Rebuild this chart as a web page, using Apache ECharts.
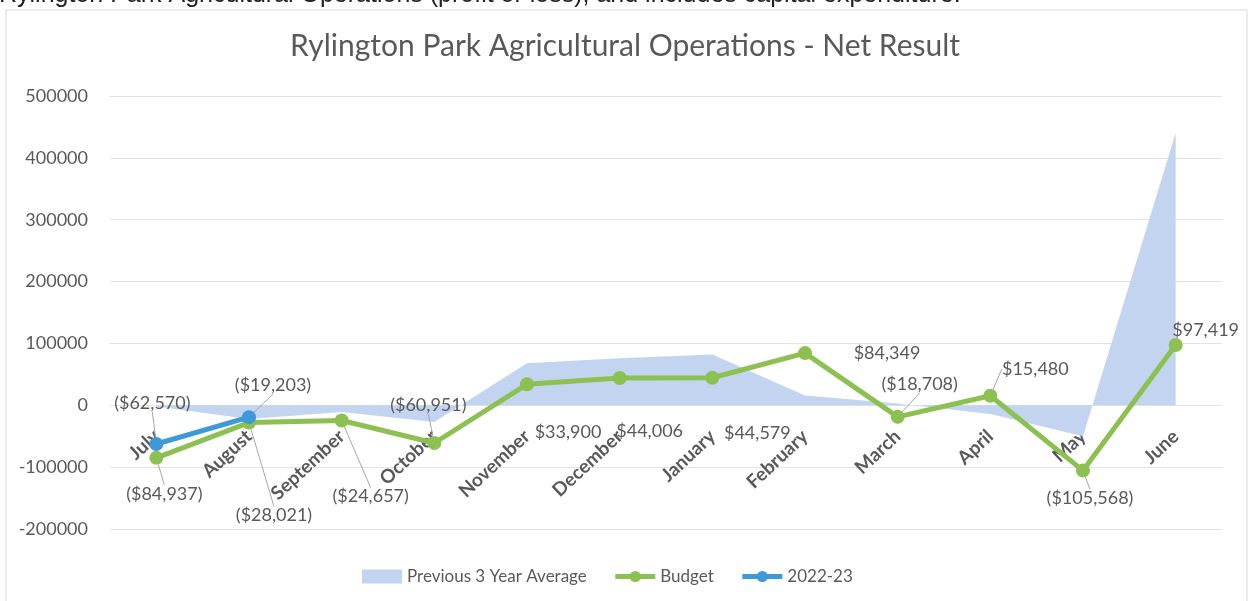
<!DOCTYPE html>
<html><head><meta charset="utf-8">
<script src="https://cdn.jsdelivr.net/npm/echarts@6/dist/echarts.min.js"></script>
<style>html,body{margin:0;padding:0;background:#fff;}#c{width:1250px;height:601px;}</style>
</head><body><div id="c"></div>
<script>
const months = ['July','August','September','October','November','December','January','February','March','April','May','June'];
const prev3YearAvg = [-2000, -22000, -11000, -27000, 68000, 76000, 82000, 16000, 3000, -14000, -50000, 440000];
const budget = [-84937, -28021, -24657, -60951, 33900, 44006, 44579, 84349, -18708, 15480, -105568, 97419];
const actual2223 = [-62570, -19203];
const yTicks = { min: -200000, max: 500000, interval: 100000 };

// label offsets (pixels, from point to label centre) and whether a leader line is drawn
const budgetLabelOffsets = [[8,36,1],[25,93,1],[29,76,1],[-6,-38,1],[41,48,0],[30,53,0],[45,55,0],[82,0,0],[22,-33,1],[45,-27,1],[7,28,1],[30,-15,0]];
const actualLabelOffsets = [[-4,-41,1],[24,-32,1]];

function fmt(v){
  const s = '$' + Math.abs(v).toLocaleString('en-US');
  return v < 0 ? '(' + s + ')' : s;
}
const txt = '#595959';
const font = 'Lato';

function labelled(values, offsets){
  return values.map((v,i)=>({
    value: v,
    labelLine: { show: !!offsets[i][2], lineStyle: { color: '#a6a6a6', width: 1 } }
  }));
}
function layoutFrom(offsets){
  return function(p){
    const o = offsets[p.dataIndex];
    return { dx: o[0], dy: o[1] };
  };
}

const chart = echarts.init(document.getElementById('c'), null, {renderer:'canvas'});
chart.setOption({
  animation: false,
  textStyle: { fontFamily: font },
  graphic: [
    { type: 'rect', shape: { x: 6, y: 10, width: 1241, height: 600 }, style: { fill: 'none', stroke: '#d9d9d9', lineWidth: 1 }, silent: true },
    { type: 'text', left: -1, top: -17, style: { text: 'Rylington Park Agricultural Operations (profit or loss), and includes capital expenditure.', fill: '#222', font: '25px "Liberation Sans", Arial, sans-serif' } }
  ],
  title: {
    text: 'Rylington Park Agricultural Operations - Net Result',
    left: 'center', top: 26,
    textStyle: { color: txt, fontSize: 30, fontWeight: 'normal', fontFamily: font }
  },
  legend: {
    left: 357, top: 563,
    itemGap: 26, itemWidth: 40, itemHeight: 14,
    textStyle: { color: txt, fontSize: 17, fontFamily: font },
    data: [
      { name: 'Previous 3 Year Average', icon: 'rect' },
      { name: 'Budget', lineStyle: { width: 5 } },
      { name: '2022-23', lineStyle: { width: 5 } }
    ]
  },
  grid: { left: 110, right: 28, top: 96, bottom: 72 },
  xAxis: {
    type: 'category', data: months, boundaryGap: true,
    axisLine: { show: false, onZero: false },
    axisTick: { show: false },
    axisLabel: { rotate: 43, color: txt, fontSize: 19, fontWeight: 'bold', margin: 22, fontFamily: font }
  },
  yAxis: {
    type: 'value', min: yTicks.min, max: yTicks.max, interval: yTicks.interval,
    axisLine: { show: false }, axisTick: { show: false },
    axisLabel: { color: txt, fontSize: 18, margin: 22, fontFamily: font, formatter: v => String(v) },
    splitLine: { lineStyle: { color: '#e3e3e3', width: 1 } }
  },
  series: [
    {
      name: 'Previous 3 Year Average', type: 'line', data: prev3YearAvg,
      symbol: 'none', lineStyle: { width: 0 },
      itemStyle: { color: '#c3d4f0' },
      areaStyle: { color: '#c3d4f0', opacity: 1 }, z: 1
    },
    {
      name: 'Budget', type: 'line', data: labelled(budget, budgetLabelOffsets),
      symbol: 'circle', symbolSize: 14,
      lineStyle: { width: 5, color: '#8cc152' },
      itemStyle: { color: '#8cc152' },
      label: { show: true, position: 'inside', formatter: p => fmt(p.value), color: txt, fontSize: 18, fontFamily: font },
      labelLayout: layoutFrom(budgetLabelOffsets),
      z: 3
    },
    {
      name: '2022-23', type: 'line', data: labelled(actual2223, actualLabelOffsets),
      symbol: 'circle', symbolSize: 14,
      lineStyle: { width: 5, color: '#3d9ad6' },
      itemStyle: { color: '#3d9ad6' },
      label: { show: true, position: 'inside', formatter: p => fmt(p.value), color: txt, fontSize: 18, fontFamily: font },
      labelLayout: layoutFrom(actualLabelOffsets),
      z: 4
    }
  ]
});
// place the category axis labels on the zero line, through the library's own scale
const yZero = chart.convertToPixel({ yAxisIndex: 0 }, 0);
const yBottom = chart.convertToPixel({ yAxisIndex: 0 }, yTicks.min);
if (isFinite(yZero) && isFinite(yBottom) && Math.abs(yBottom - yZero) > 1) {
  chart.setOption({ xAxis: { offset: -(yBottom - yZero) } });
}
</script></body></html>
